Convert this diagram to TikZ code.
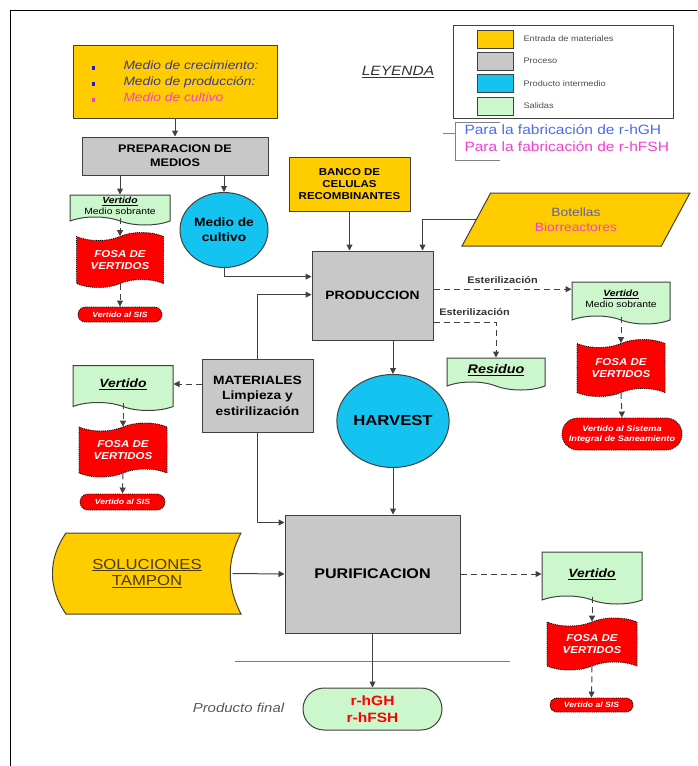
\documentclass[tikz,border=0pt]{standalone}
\usepackage{fontspec}
\setmainfont{Liberation Sans}[FakeStretch=1.15]
\usetikzlibrary{arrows.meta,shapes.geometric,shapes.symbols,shapes.misc,calc}

\definecolor{ylw}{HTML}{FFCC00}
\definecolor{gry}{HTML}{C8C8C8}
\definecolor{cyn}{HTML}{14C3F0}
\definecolor{grn}{HTML}{CCF7CC}
\definecolor{rd}{HTML}{FF0000}
\definecolor{edge}{HTML}{404040}
\definecolor{txtblue}{HTML}{3A35A0}
\definecolor{bulblue}{HTML}{2020D0}
\definecolor{mag}{HTML}{F53CD2}
\definecolor{legblue}{HTML}{4A6AF0}
\definecolor{linblue}{HTML}{6A6AFF}
\definecolor{soltext}{HTML}{4A3B00}

\begin{document}
\begin{tikzpicture}[x=1pt, y=-1pt, line width=1pt,
	proc/.style = {draw=edge, fill=gry, align=center, inner sep=0pt, font=\bfseries},
	entrada/.style = {draw=edge, fill=ylw, align=center, inner sep=0pt},
	inter/.style = {ellipse, draw=edge, fill=cyn, align=center, inner sep=0pt, font=\bfseries},
	salida/.style = {tape, tape bend top=none, tape bend bottom=out and in, tape bend height=8pt, draw=edge, fill=grn, align=center, inner sep=0pt},
	fosa/.style = {tape, tape bend height=8pt, draw=black, densely dotted, line width=0.9pt, fill=rd, text=white, align=center, inner sep=0pt, font=\fontsize{10}{12}\selectfont\bfseries\itshape},
	sis/.style = {rounded rectangle, draw=black, densely dotted, line width=0.9pt, fill=rd, text=white, align=center, inner sep=0pt},
	flow/.style = {draw=edge, -{Triangle[length=6pt,width=6pt]}},
	dflow/.style = {flow, dash pattern=on 6pt off 4pt},
	swatch/.style = {draw=edge, minimum width=36pt, minimum height=18pt, inner sep=0pt},
	legtext/.style = {anchor=west, inner sep=0pt, font=\fontsize{8}{9}\selectfont, text=black!70}]

	\useasboundingbox (0,0) rectangle (697,766);
	\draw[black] (697,10) -- (10,10) -- (10,766);

	% leyenda
	\node[draw=edge, fill=white, minimum width=220pt, minimum height=93pt] (leg) at (563,71.5) {};
	\node[swatch, fill=ylw] (sw1) at (495,39) {};
	\node[swatch, fill=gry] (sw2) at (495,61) {};
	\node[swatch, fill=cyn] (sw3) at (495,83.5) {};
	\node[swatch, fill=grn] (sw4) at (495,106) {};
	\node[legtext] (lt1) at (523,39) {Entrada de materiales};
	\node[legtext] (lt2) at (523,61) {Proceso};
	\node[legtext] (lt3) at (523,83.5) {Producto intermedio};
	\node[legtext] (lt4) at (523,106) {Salidas};
	\node[font=\fontsize{13.5}{15}\selectfont\itshape, text=black!80] (leyenda) at (398,72) {\underline{LEYENDA}};
	\draw[gray] (500,122) -- (455,122) -- (455,160) -- (500,160) (443,133) -- (455,133);
	\node[anchor=west, inner sep=0pt, font=\fontsize{13.5}{15}\selectfont, text=legblue] (para1) at (464,130) {Para la fabricación de r-hGH};
	\node[anchor=west, inner sep=0pt, font=\fontsize{13.5}{15}\selectfont, text=mag] (para2) at (464,147) {Para la fabricación de r-hFSH};

	% preparacion y produccion
	\node[entrada, minimum width=204pt, minimum height=73pt, align=left, font=\fontsize{12}{16}\selectfont\itshape] (medios) at (175,81.5)
		{\makebox[32pt][l]{\textcolor{bulblue}{\rule{3.5pt}{3.5pt}}}\textcolor{txtblue}{Medio de crecimiento:}\\
		 \makebox[32pt][l]{\textcolor{bulblue}{\rule{3.5pt}{3.5pt}}}\textcolor{txtblue}{Medio de producción:}\\
		 \makebox[32pt][l]{\textcolor{mag}{\rule{3.5pt}{3.5pt}}}\textcolor{mag}{Medio de cultivo}};
	\node[proc, minimum width=186pt, minimum height=38pt, font=\fontsize{11}{14}\selectfont\bfseries] (prep) at (175,156) {PREPARACION DE\\MEDIOS};
	\node[salida, minimum width=100pt, minimum height=30pt, font=\fontsize{9}{11}\selectfont] (vtl) at (120,206) {\textbf{\textit{\underline{Vertido}}}\\Medio sobrante};
	\node[fosa, minimum width=87pt, minimum height=55pt] (fosal) at (120,260) {FOSA DE\\VERTIDOS};
	\node[sis, minimum width=84pt, minimum height=15pt, font=\fontsize{7.5}{9}\selectfont\bfseries\itshape] (sisl) at (120,314.5) {Vertido al SIS};
	\node[inter, minimum width=88pt, minimum height=75pt, font=\fontsize{12}{15}\selectfont\bfseries] (cult) at (224,230) {Medio de\\cultivo};
	\node[entrada, minimum width=121pt, minimum height=54pt, font=\fontsize{10}{12}\selectfont\bfseries] (banco) at (349.5,184) {BANCO DE\\CELULAS\\RECOMBINANTES};
	\node[trapezium, trapezium left angle=60, trapezium right angle=120, trapezium stretches=true, draw=edge, fill=ylw, minimum width=228pt, minimum height=53pt, inner sep=0pt, align=center, font=\fontsize{12}{15}\selectfont] (bot) at (576,219.5)
		{\textcolor{txtblue!80}{Botellas}\\\textcolor{mag}{Biorreactores}};
	\node[proc, minimum width=121pt, minimum height=89pt, font=\fontsize{12}{14}\selectfont\bfseries] (prod) at (372.5,295.5) {PRODUCCION};
	\node[salida, minimum width=98pt, minimum height=42pt, font=\fontsize{9}{11}\selectfont] (vtr) at (621,299) {\textbf{\textit{\underline{Vertido}}}\\Medio sobrante};
	\node[fosa, minimum width=88pt, minimum height=57pt] (fosar) at (621,368) {FOSA DE\\VERTIDOS};
	\node[sis, minimum width=120pt, minimum height=32pt, font=\fontsize{8}{10}\selectfont\bfseries\itshape] (sisr) at (622,434) {Vertido al Sistema\\Integral de Saneamiento};
	\node[salida, minimum width=98pt, minimum height=32pt, font=\fontsize{12.5}{14}\selectfont\bfseries\itshape] (res) at (496,370) {\underline{Residuo}};
	\node[inter, minimum width=110pt, minimum height=93pt, font=\fontsize{14.5}{16}\selectfont\bfseries] (harv) at (393,421) {HARVEST};

	% materiales
	\node[proc, minimum width=111pt, minimum height=73pt, font=\fontsize{12}{15.5}\selectfont\bfseries] (mat) at (257.5,395.5) {MATERIALES\\Limpieza y\\estirilización};
	\node[salida, minimum width=100pt, minimum height=45pt, font=\fontsize{12}{14}\selectfont\bfseries\itshape] (vml) at (123,384) {\underline{Vertido}};
	\node[fosa, minimum width=88pt, minimum height=54pt] (fosaml) at (123,450) {FOSA DE\\VERTIDOS};
	\node[sis, minimum width=85pt, minimum height=16pt, font=\fontsize{7.5}{9}\selectfont\bfseries\itshape] (sisml) at (122.5,502) {Vertido al SIS};

	% purificacion
	\node[minimum width=190pt, minimum height=83pt, inner sep=0pt, align=center, text=soltext, font=\fontsize{14.5}{17}\selectfont,
		path picture={\path[fill=ylw, draw=edge, line width=1pt]
			([xshift=14pt,yshift=-1pt]path picture bounding box.north west) -- ([xshift=-1pt,yshift=-1pt]path picture bounding box.north east)
			to[bend right=27] ([xshift=-1pt,yshift=1pt]path picture bounding box.south east) -- ([xshift=14pt,yshift=1pt]path picture bounding box.south west)
			to[bend left=35] cycle;}] (sol) at (147,573.5) {\underline{SOLUCIONES}\\\underline{TAMPON}};
	\node[proc, minimum width=175pt, minimum height=118pt, font=\fontsize{14}{16}\selectfont\bfseries] (pur) at (372.5,574) {PURIFICACION};
	\node[salida, minimum width=100pt, minimum height=52pt, font=\fontsize{12}{14}\selectfont\bfseries\itshape] (vbr) at (592,574) {\underline{Vertido}};
	\node[fosa, minimum width=90pt, minimum height=52pt] (fosabr) at (592,644) {FOSA DE\\VERTIDOS};
	\node[sis, minimum width=83pt, minimum height=14pt, font=\fontsize{7.5}{9}\selectfont\bfseries\itshape] (sisbr) at (591.5,705) {Vertido al SIS};
	\node[rounded rectangle, draw=edge, fill=grn, minimum width=139pt, minimum height=42pt, inner sep=0pt, align=center, text=rd, font=\fontsize{13.5}{17}\selectfont\bfseries] (final) at (372.5,709) {r-hGH\\r-hFSH};
	\node[font=\fontsize{13}{15}\selectfont\itshape, text=black!65] (pfinal) at (238.5,708) {Producto final};

	\draw[linblue] (235,661) -- (510,661);

	\draw[flow] (medios) -- (prep);
	\draw[flow] (prep.south -| vtl) -- (vtl.north);
	\draw[flow] (prep.south -| cult) -- (cult.north);
	\draw[dflow] (vtl.south) -- (fosal.north);
	\draw[dflow] (fosal.south) -- (sisl.north);
	\draw[flow] (cult.south) |- ($(prod.north west)!0.29!(prod.south west)$);
	\draw[flow] (mat.north) |- ($(prod.north west)!0.49!(prod.south west)$);
	\draw[flow] (banco) -- (banco |- prod.north);
	\draw[flow] (bot.west) -| ($(prod.north east)+(-11,0)$);
	\coordinate (est1) at ($(prod.north east)!0.43!(prod.south east)$);
	\coordinate (est2) at ($(prod.north east)!0.8!(prod.south east)$);
	\draw[dflow] (est1) -- (est1 -| vtr.west) node[midway, above=2pt, font=\fontsize{9.5}{11}\selectfont\bfseries, text=black!80] {Esterilización};
	\draw[dflow] (est2) -| (res.north) node[pos=0, anchor=south west, xshift=2pt, yshift=3pt, font=\fontsize{9.5}{11}\selectfont\bfseries, text=black!80] {Esterilización};
	\draw[dflow] (vtr.south) -- (fosar.north);
	\draw[dflow] (fosar.south) -- (sisr.north);
	\draw[flow] (prod.south -| harv) -- (harv.north);
	\draw[flow] (harv.south) -- (harv.south |- pur.north);
	\draw[dflow] (vml.east -| mat.west) -- (vml.east);
	\draw[dflow] (vml.south) -- (fosaml.north);
	\draw[dflow] (fosaml.south) -- (sisml.north);
	\draw[flow] (mat.south) |- ($(pur.north west)+(0,8)$);
	\draw[flow] ($(sol.east)+(-10,0)$) -- (pur.west);
	\draw[dflow] (pur.east) -- (vbr.west);
	\draw[dflow] (vbr.south) -- (fosabr.north);
	\draw[dflow] (fosabr.south) -- (sisbr.north);
	\draw[flow] (pur.south) -- (final.north);
\end{tikzpicture}
\end{document}
